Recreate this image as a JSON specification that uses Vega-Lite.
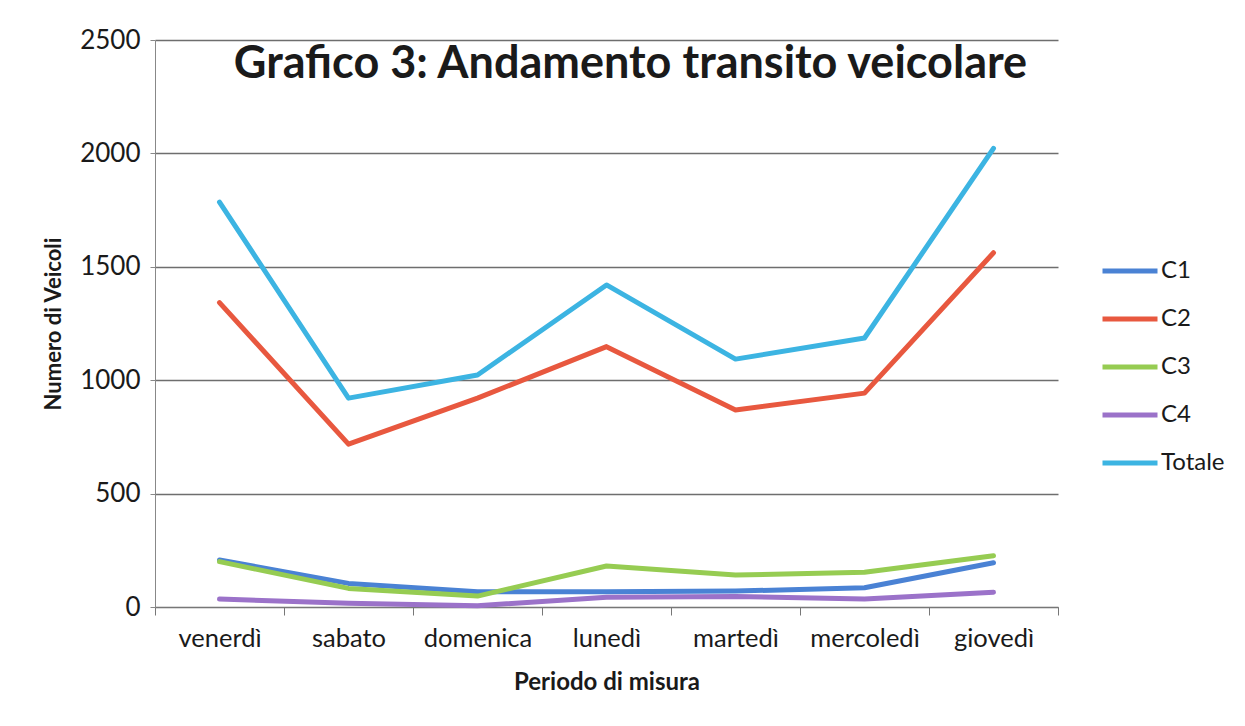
{
  "$schema": "https://vega.github.io/schema/vega-lite/v6.json",
  "width": 903,
  "height": 567,
  "autosize": {"type": "none"},
  "padding": {"left": 155, "top": 40, "right": 187, "bottom": 119},
  "background": "white",
  "title": {"text": "Grafico 3: Andamento transito veicolare", "font": "Lato", "fontSize": 45, "fontWeight": "bold", "color": "#1a1a1a", "anchor": "middle", "offset": -60, "dx": 24},
  "data": {"values": [
    {"giorno": "venerdì", "serie": "C1", "veicoli": 207},
    {"giorno": "sabato", "serie": "C1", "veicoli": 104},
    {"giorno": "domenica", "serie": "C1", "veicoli": 67},
    {"giorno": "lunedì", "serie": "C1", "veicoli": 67},
    {"giorno": "martedì", "serie": "C1", "veicoli": 70},
    {"giorno": "mercoledì", "serie": "C1", "veicoli": 85},
    {"giorno": "giovedì", "serie": "C1", "veicoli": 195},
    {"giorno": "venerdì", "serie": "C2", "veicoli": 1342},
    {"giorno": "sabato", "serie": "C2", "veicoli": 718},
    {"giorno": "domenica", "serie": "C2", "veicoli": 921},
    {"giorno": "lunedì", "serie": "C2", "veicoli": 1148},
    {"giorno": "martedì", "serie": "C2", "veicoli": 869},
    {"giorno": "mercoledì", "serie": "C2", "veicoli": 943},
    {"giorno": "giovedì", "serie": "C2", "veicoli": 1562},
    {"giorno": "venerdì", "serie": "C3", "veicoli": 200},
    {"giorno": "sabato", "serie": "C3", "veicoli": 82},
    {"giorno": "domenica", "serie": "C3", "veicoli": 48},
    {"giorno": "lunedì", "serie": "C3", "veicoli": 181},
    {"giorno": "martedì", "serie": "C3", "veicoli": 141},
    {"giorno": "mercoledì", "serie": "C3", "veicoli": 153},
    {"giorno": "giovedì", "serie": "C3", "veicoli": 226},
    {"giorno": "venerdì", "serie": "C4", "veicoli": 35},
    {"giorno": "sabato", "serie": "C4", "veicoli": 16},
    {"giorno": "domenica", "serie": "C4", "veicoli": 6},
    {"giorno": "lunedì", "serie": "C4", "veicoli": 43},
    {"giorno": "martedì", "serie": "C4", "veicoli": 46},
    {"giorno": "mercoledì", "serie": "C4", "veicoli": 35},
    {"giorno": "giovedì", "serie": "C4", "veicoli": 65},
    {"giorno": "venerdì", "serie": "Totale", "veicoli": 1785},
    {"giorno": "sabato", "serie": "Totale", "veicoli": 921},
    {"giorno": "domenica", "serie": "Totale", "veicoli": 1023},
    {"giorno": "lunedì", "serie": "Totale", "veicoli": 1420},
    {"giorno": "martedì", "serie": "Totale", "veicoli": 1093},
    {"giorno": "mercoledì", "serie": "Totale", "veicoli": 1186},
    {"giorno": "giovedì", "serie": "Totale", "veicoli": 2022}
  ]},
  "mark": {"type": "line", "strokeWidth": 5, "strokeCap": "round", "strokeJoin": "round"},
  "encoding": {
    "x": {
      "field": "giorno", "type": "nominal",
      "sort": ["venerdì", "sabato", "domenica", "lunedì", "martedì", "mercoledì", "giovedì"],
      "bandPosition": 0.5,
      "scale": {"type": "band", "paddingInner": 0, "paddingOuter": 0},
      "axis": {
        "title": "Periodo di misura", "titleFont": "Lato", "titleFontSize": 24, "titleFontWeight": "bold", "titleColor": "#1a1a1a", "titlePadding": 19,
        "labelFont": "Lato", "labelFontSize": 25.5, "labelColor": "#1a1a1a", "labelAngle": 0, "labelPadding": 11,
        "tickBand": "extent", "tickSize": 8, "tickColor": "#777", "domainColor": "#777", "grid": false
      }
    },
    "y": {
      "field": "veicoli", "type": "quantitative",
      "scale": {"domain": [0, 2500]},
      "axis": {
        "title": "Numero di Veicoli", "titleFont": "Lato", "titleFontSize": 22, "titleFontWeight": "bold", "titleColor": "#1a1a1a", "titlePadding": 14,
        "labelFont": "Lato", "labelFontSize": 26, "labelColor": "#1a1a1a", "labelPadding": 10, "format": "d",
        "values": [0, 500, 1000, 1500, 2000, 2500],
        "tickSize": 5, "tickColor": "#888", "domainColor": "#888",
        "grid": true, "gridColor": "#6e6e6e", "gridWidth": 1.3
      }
    },
    "color": {
      "field": "serie", "type": "nominal",
      "scale": {"domain": ["C1", "C2", "C3", "C4", "Totale"], "range": ["#4a82d4", "#e8583f", "#96cc52", "#9b72c9", "#3cb4e2"]},
      "legend": {
        "title": null, "orient": "none", "legendX": 945, "legendY": 219, "padding": 0,
        "symbolType": "stroke", "symbolSize": 3025, "symbolStrokeWidth": 5,
        "clipHeight": 24, "rowPadding": 24,
        "labelFont": "Lato", "labelFontSize": 24, "labelColor": "#1a1a1a", "labelOffset": 1
      }
    }
  },
  "config": {"view": {"stroke": null}}
}
